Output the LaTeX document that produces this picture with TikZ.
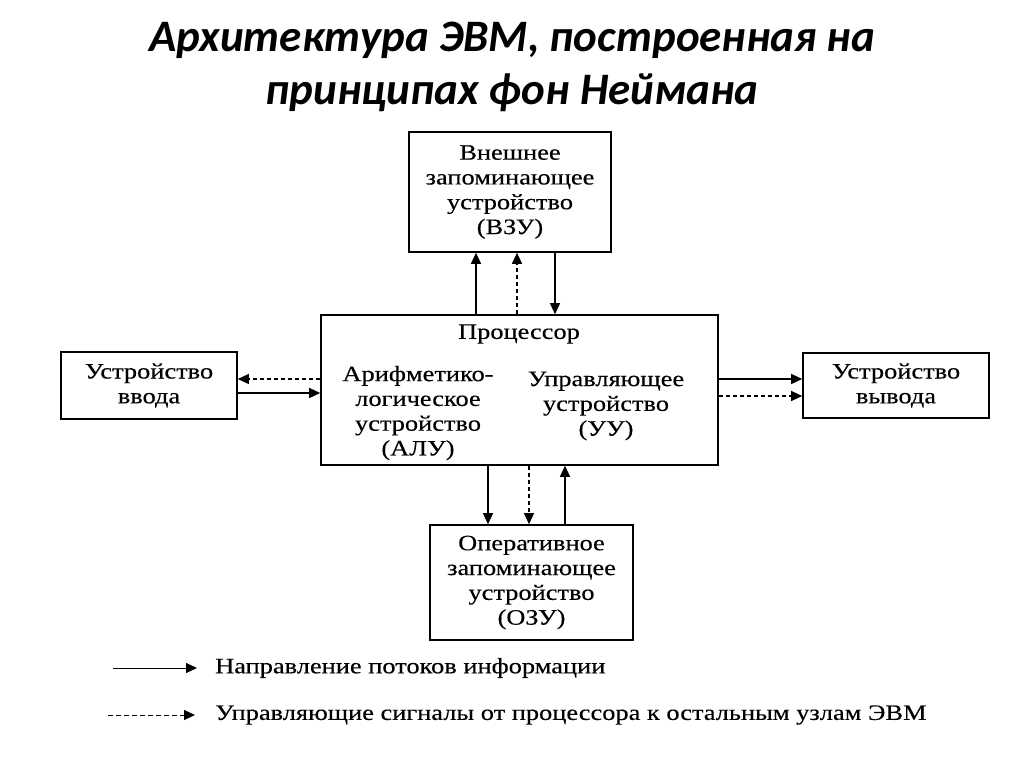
\documentclass[tikz,border=0pt]{standalone}
\usepackage{fontspec}
\setmainfont{Liberation Serif}
\newfontfamily\boxfont{Liberation Serif}[FakeStretch=1.2, FakeBold=0.3]
\newfontfamily\titlefont{Carlito}
\usetikzlibrary{arrows.meta}
\tikzset{
  box/.style={draw, line width=1.6pt, align=center, inner sep=0pt, font=\boxfont\fontsize{22}{24.8}\selectfont},
  lbl/.style={align=center, inner sep=0pt, font=\boxfont\fontsize{22}{24.8}\selectfont},
  flow/.style={line width=1.3pt, -{Triangle[length=11pt,width=10pt]}},
  ctrl/.style={line width=1.1pt, dash pattern=on 4pt off 3pt, -{Triangle[length=11pt,width=10pt]}},
}
\begin{document}
\begin{tikzpicture}[x=1pt,y=-1pt]
\useasboundingbox (0,0) rectangle (1024,767);
% title
\node[font=\titlefont\bfseries\itshape\fontsize{45}{53}\selectfont, align=center] (title) at (512,67) {Архитектура ЭВМ, построенная на\\принципах фон Неймана};
% boxes
\node[box, minimum width=202pt, minimum height=120pt] (vzu) at (510,192) {Внешнее\\запоминающее\\устройство\\(ВЗУ)};
\node[box, minimum width=397pt, minimum height=150pt] (proc) at (519.5,390) {};
\node[lbl] (proct) at (519,334) {Процессор};
\node[lbl] (alu) at (418,413) {Арифметико-\\логическое\\устройство\\(АЛУ)};
\node[lbl] (uu) at (606,406) {Управляющее\\устройство\\(УУ)};
\node[box, minimum width=176pt, minimum height=67pt] (inp) at (149,385.5) {Устройство\\ввода};
\node[box, minimum width=186pt, minimum height=65pt] (out) at (896,385.5) {Устройство\\вывода};
\node[box, minimum width=203pt, minimum height=115pt] (ozu) at (531.5,582.5) {Оперативное\\запоминающее\\устройство\\(ОЗУ)};
% guide coordinates
\coordinate (xa) at (476,0);
\coordinate (xb) at (517,0);
\coordinate (xc) at (555,0);
\coordinate (xd) at (488,0);
\coordinate (xe) at (529,0);
\coordinate (xf) at (565,0);
\coordinate (ya) at (0,379);
\coordinate (yb) at (0,393);
\coordinate (yc) at (0,379);
\coordinate (yd) at (0,396);
% top arrows
\draw[flow] (proc.north -| xa) -- (vzu.south -| xa);
\draw[ctrl] (proc.north -| xb) -- (vzu.south -| xb);
\draw[flow] (vzu.south -| xc) -- (proc.north -| xc);
% left arrows
\draw[ctrl] (proc.west |- ya) -- (inp.east |- ya);
\draw[flow] (inp.east |- yb) -- (proc.west |- yb);
% right arrows
\draw[flow] (proc.east |- yc) -- (out.west |- yc);
\draw[ctrl] (proc.east |- yd) -- (out.west |- yd);
% bottom arrows
\draw[flow] (proc.south -| xd) -- (ozu.north -| xd);
\draw[ctrl] (proc.south -| xe) -- (ozu.north -| xe);
\draw[flow] (ozu.north -| xf) -- (proc.south -| xf);
% legend
\coordinate (l1a) at (113,668);
\coordinate (l1b) at (197,668);
\coordinate (l2a) at (108,715);
\coordinate (l2b) at (195,715);
\draw[flow, line width=1pt] (l1a) -- (l1b);
\draw[ctrl, line width=1pt, dash pattern=on 5pt off 3pt] (l2a) -- (l2b);
\node[lbl, anchor=west] (leg1) at (215,668) {Направление потоков информации};
\node[lbl, anchor=west] (leg2) at (215,715) {Управляющие сигналы от процессора к остальным узлам ЭВМ};
\end{tikzpicture}
\end{document}
